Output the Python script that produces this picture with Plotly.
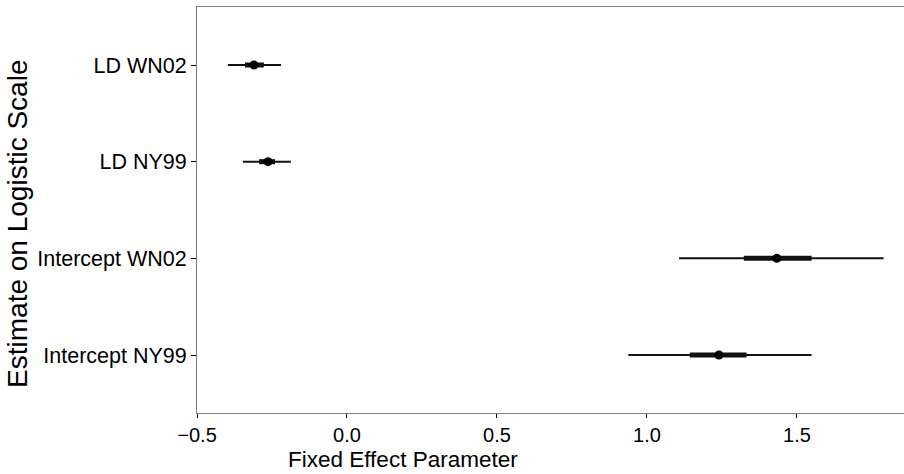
import plotly.graph_objects as go

# Fixed-effect estimates (logistic scale) with 50% and 95% intervals
params = ["Intercept NY99", "Intercept WN02", "LD NY99", "LD WN02"]
estimate = [1.240, 1.433, -0.263, -0.310]
lo95 = [0.938, 1.107, -0.347, -0.397]
hi95 = [1.549, 1.789, -0.187, -0.220]
lo50 = [1.143, 1.323, -0.293, -0.340]
hi50 = [1.332, 1.549, -0.240, -0.277]

x_ticks = [-0.5, 0.0, 0.5, 1.0, 1.5]
x_ticktext = ["\u22120.5", "0.0", "0.5", "1.0", "1.5"]

ypos = list(range(1, len(params) + 1))
ink = "#111111"
font_family = "Liberation Sans, Arial, sans-serif"

fig = go.Figure()
for i, y in enumerate(ypos):
    fig.add_trace(go.Scatter(x=[lo95[i], hi95[i]], y=[y, y], mode="lines",
                             line=dict(color=ink, width=2), showlegend=False,
                             hoverinfo="skip"))
    fig.add_trace(go.Scatter(x=[lo50[i], hi50[i]], y=[y, y], mode="lines",
                             line=dict(color=ink, width=5), showlegend=False,
                             hoverinfo="skip"))
fig.add_trace(go.Scatter(x=estimate, y=ypos, mode="markers",
                         marker=dict(color="black", size=9), showlegend=False))

fig.update_layout(
    width=904, height=474,
    margin=dict(l=197, r=0, t=7, b=61),
    plot_bgcolor="white", paper_bgcolor="white",
    font=dict(family=font_family, color="black", size=20),
    xaxis=dict(
        range=[-0.5, 1.857], tickvals=x_ticks, ticktext=x_ticktext,
        showgrid=False, zeroline=False,
        showline=True, linecolor="#808080", linewidth=1, mirror=True,
        ticks="outside", ticklen=4, tickcolor="black",
        tickfont=dict(size=20),
    ),
    yaxis=dict(
        range=[0.4, 4.6], tickvals=ypos, ticktext=params,
        showgrid=False, zeroline=False,
        showline=True, linecolor="#808080", linewidth=1,
        ticks="outside", ticklen=5, tickcolor="black",
        tickfont=dict(size=21.5),
    ),
    annotations=[
        dict(text="Fixed Effect Parameter", xref="paper", yref="paper",
             x=0.292, y=-0.114, xanchor="center", yanchor="middle",
             showarrow=False, font=dict(size=22.5)),
        dict(text="Estimate on Logistic Scale", xref="paper", yref="paper",
             x=-0.255, y=0.465, xanchor="center", yanchor="middle",
             textangle=-90, showarrow=False, font=dict(size=28)),
    ],
)

fig.write_html("out.html")
